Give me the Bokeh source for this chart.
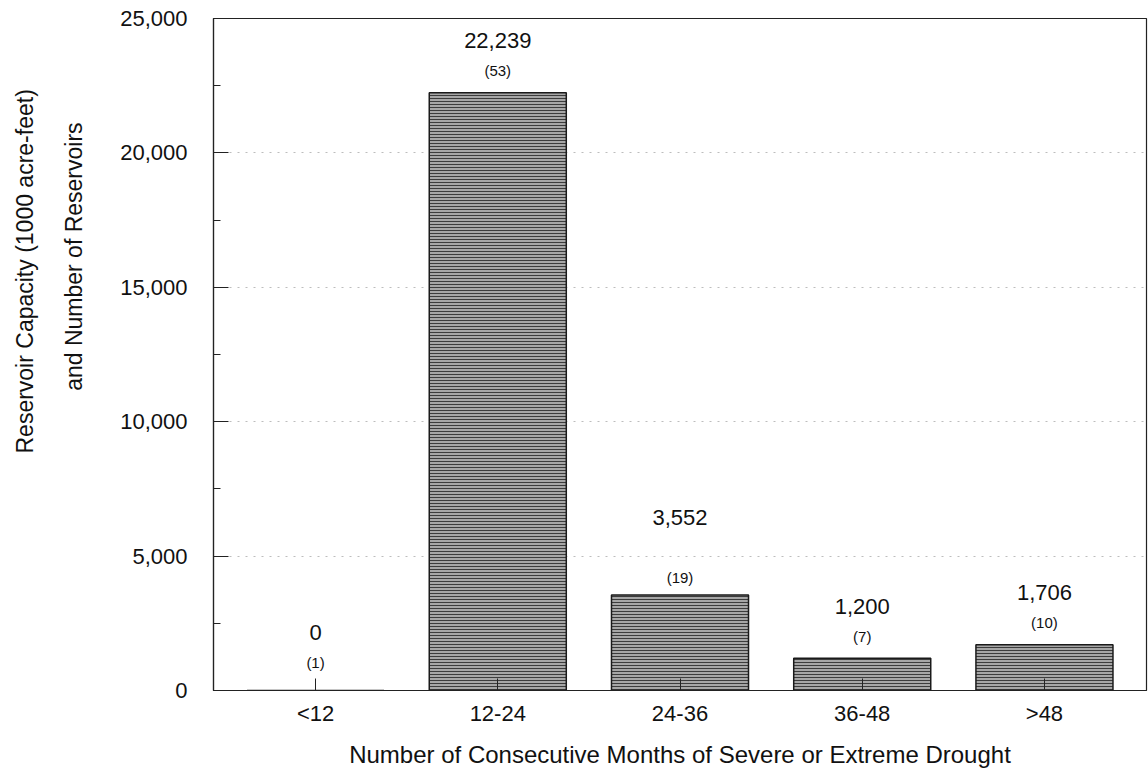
import math
from bokeh.plotting import figure
from bokeh.layouts import row
from bokeh.models import (ColumnDataSource, FactorRange, Range1d, SingleIntervalTicker,
                          NumeralTickFormatter, LabelSet)
from bokeh.core.properties import value
from bokeh.embed import file_html
from bokeh.resources import INLINE

# ---- data ----
categories = ["<12", "12-24", "24-36", "36-48", ">48"]
capacity = [0, 22239, 3552, 1200, 1706]          # 1000 acre-feet
reservoirs = [1, 53, 19, 7, 10]                  # number of reservoirs
y_ticks = [0, 5000, 10000, 15000, 20000, 25000]
y_title_lines = ["Reservoir Capacity (1000 acre-feet)", "and Number of Reservoirs"]
x_title = "Number of Consecutive Months of Severe or Extreme Drought"

FONT = "Liberation Sans"
INK = "#111111"
W, H = 1148, 776
STRIP = 100          # width of the left strip that carries the two-line y title

cap_labels = [f"{v:,}" for v in capacity]
cnt_labels = [f"({n})" for n in reservoirs]
# label lift above the bar top (screen px); a few labels sit differently in the original
value_lift = [{"24-36": 78, "<12": 58}.get(c, 52) for c in categories]
count_lift = [{"24-36": 18, "<12": 28}.get(c, 22) for c in categories]

src = ColumnDataSource(dict(cat=categories, cap=capacity, cap_lbl=cap_labels,
                            cnt_lbl=cnt_labels, vlift=value_lift, clift=count_lift))

# ---- left strip: y-axis title in two lines (pixel coordinates) ----
t = figure(width=STRIP, height=H, output_backend="svg", toolbar_location=None,
           x_range=Range1d(0, STRIP), y_range=Range1d(0, H),
           min_border=0, outline_line_color=None)
t.axis.visible = False
t.grid.visible = False
t.text(x=[24, 73], y=[H - 292, H - 275], text=y_title_lines,
       angle=math.pi / 2, text_align="center", text_baseline="middle",
       text_font=value(FONT), text_font_size="23px", text_color=INK)

# ---- main chart ----
p = figure(width=W - STRIP, height=H, output_backend="svg", toolbar_location=None,
           x_range=FactorRange(*categories, range_padding=0.06, range_padding_units="absolute"),
           y_range=Range1d(y_ticks[0], y_ticks[-1]),
           min_border_left=213 - STRIP, min_border_right=2, min_border_top=18, min_border_bottom=86)

p.vbar(x="cat", top="cap", width=0.752, source=src,
       fill_color="#a6a6a6", line_color="#1a1a1a", line_width=1.5,
       hatch_pattern="horizontal_line", hatch_color="#3c3c3c", hatch_scale=3, hatch_weight=1)

p.add_layout(LabelSet(x="cat", y="cap", text="cap_lbl", y_offset="vlift", source=src,
                      text_align="center", text_baseline="middle",
                      text_font=value(FONT), text_font_size=value("22px"), text_color=INK))
p.add_layout(LabelSet(x="cat", y="cap", text="cnt_lbl", y_offset="clift", source=src,
                      text_align="center", text_baseline="middle",
                      text_font=value(FONT), text_font_size=value("15px"), text_color=INK))

# frame
p.outline_line_color = "#222222"
p.outline_line_width = 1.2
p.background_fill_color = "white"
p.border_fill_color = "white"

# grid
p.xgrid.grid_line_color = None
p.ygrid.grid_line_color = "#bdbdbd"
p.ygrid.grid_line_dash = "2 6"
p.ygrid.grid_line_width = 1

# y axis
p.yaxis.ticker = SingleIntervalTicker(interval=5000, num_minor_ticks=2)
p.yaxis.formatter = NumeralTickFormatter(format="0,0")
p.yaxis.major_tick_in = 15
p.yaxis.major_tick_out = 0
p.yaxis.minor_tick_in = 7
p.yaxis.minor_tick_out = 0
p.yaxis.major_label_standoff = 26
p.yaxis.major_label_text_font = FONT
p.yaxis.major_label_text_font_size = "22px"
p.yaxis.major_label_text_color = INK
p.yaxis.axis_line_color = "#222222"
p.yaxis.axis_line_width = 1.2
p.yaxis.major_tick_line_color = "#222222"
p.yaxis.minor_tick_line_color = "#222222"

# x axis
p.xaxis.major_tick_in = 12
p.xaxis.major_tick_out = 0
p.xaxis.major_label_standoff = 10
p.xaxis.major_label_text_font = FONT
p.xaxis.major_label_text_font_size = "22px"
p.xaxis.major_label_text_color = INK
p.xaxis.axis_line_color = "#222222"
p.xaxis.axis_line_width = 1.2
p.xaxis.major_tick_line_color = "#222222"
p.xaxis.axis_label = x_title
p.xaxis.axis_label_standoff = 12
p.xaxis.axis_label_text_font = FONT
p.xaxis.axis_label_text_font_size = "24px"
p.xaxis.axis_label_text_font_style = "normal"
p.xaxis.axis_label_text_color = INK

open("out.html", "w").write(file_html(row(t, p), INLINE))
